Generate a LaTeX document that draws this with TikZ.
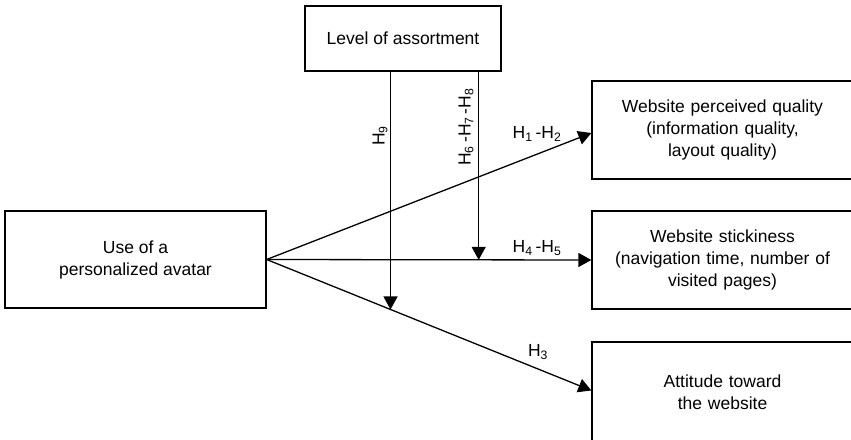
\documentclass[tikz,border=0pt]{standalone}
\usepackage{fontspec}
\setmainfont{Liberation Sans}
\usetikzlibrary{arrows.meta,calc}
\begin{document}
\begin{tikzpicture}[x=1pt,y=-1pt,
  every node/.style={font=\fontsize{17.5}{22}\selectfont},
  box/.style={draw, line width=1.3pt, align=center, inner sep=0pt},
  outcome/.style={box, minimum width=266pt, minimum height=98pt, text width=261pt},
  link/.style={line width=1.3pt, -{Triangle[length=13pt,width=14pt]}},
  hyp/.style={inner sep=0pt}]
\useasboundingbox (0,0) rectangle (851,439);
\clip (0,0) rectangle (851,439);

% constructs
\node[box, minimum width=196pt, minimum height=65pt] (lev) at (403,38.5) {Level of assortment};
\node[box, minimum width=261pt, minimum height=97pt] (ava) at (135.5,259.5) {Use of a\\personalized avatar};
\node[outcome] (qual) at (725,130) {\hspace*{-5pt}Website perceived quality\\\hspace*{-5pt}(information quality,\\\hspace*{-5pt}layout quality)};
\node[outcome] (stick) at (725,260) {\hspace*{-5pt}Website stickiness\\\hspace*{-5pt}(navigation time, number of\\\hspace*{-5pt}visited pages)};
\node[outcome, minimum height=100pt] (att) at (725,392) {\hspace*{-5pt}Attitude toward\\\hspace*{-5pt}the website};

% direct effects
\draw[link] (ava.east) -- ($(qual.west)+(0,3)$);
\draw[link] (ava.east) -- (stick.west);
\draw[link] (ava.east) -- ($(att.west)+(0,-1.5)$);

% moderating effects
\coordinate (e9) at ($(ava.east)!0.3815!($(att.west)+(0,-1.5)$)$);
\coordinate (e68) at ($(ava.east)!0.653!(stick.west)$);
\draw[link] (e9 |- lev.south) -- (e9);
\draw[link] (e68 |- lev.south) -- (e68);

% hypothesis labels
\node[hyp, rotate=90] (h9) at (380,136) {H\textsubscript{9}};
\node[hyp, rotate=90] (h678) at (466,127) {H\textsubscript{6}\,-H\textsubscript{7}\,-H\textsubscript{8}};
\node[hyp] (h12) at (537,134) {H\textsubscript{1}\,-H\textsubscript{2}};
\node[hyp] (h45) at (537,248) {H\textsubscript{4}\,-H\textsubscript{5}};
\node[hyp] (h3) at (538,352) {H\textsubscript{3}};
\end{tikzpicture}
\end{document}
